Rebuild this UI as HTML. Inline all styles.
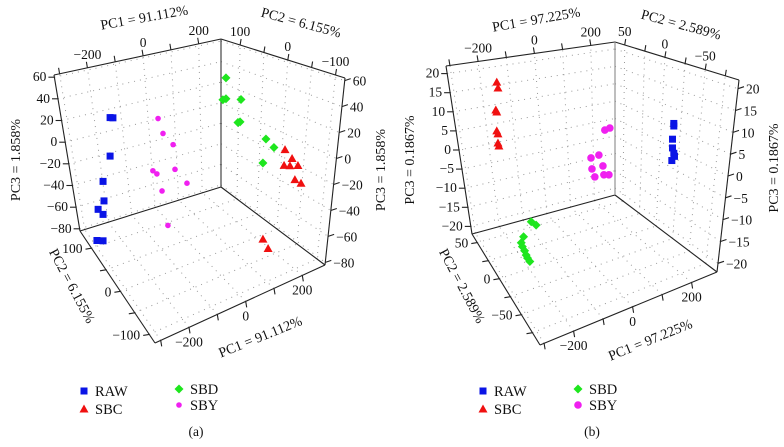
<!DOCTYPE html>
<html><head><meta charset="utf-8"><style>
html,body{margin:0;padding:0;background:#fff;}
svg{display:block;}
svg text{font-family:"Liberation Serif","DejaVu Serif",serif;}
</style></head><body>
<svg id="chart" width="784" height="447" viewBox="0 0 784 447" xmlns="http://www.w3.org/2000/svg" font-family="Liberation Serif, serif"></svg>
<script>
// ---------- Panel (a) data ----------
const A_RAW_PC1 = [-260,-248,-260,-290,-286,-311,-290,-316,-290];
const A_RAW_PC2 = [100,100,100,100,100,100,100,100,100];
const A_RAW_PC3 = [28,27,-7,-28,-46,-52,-58,-80,-82];
const A_SBC_PC1 = [212,242,208,233,267,254,280,118,140];
const A_SBC_PC2 = [-60,-60,-60,-60,-60,-60,-60,-60,-60];
const A_SBC_PC3 = [11,1,-3,-5,-7,-19,-24,-64,-74];
const A_SBD_PC1 = [199,186,199,263,250,259,233,267,220];
const A_SBD_PC2 = [80,80,80,80,80,80,0,0,0];
const A_SBD_PC3 = [39,20,20,15,-5,-5,3,-7,-18];
const A_SBY_PC1 = [-124,-103,-60,-146,-129,-52,-1,-107,-82];
const A_SBY_PC2 = [60,60,60,60,60,60,60,60,60];
const A_SBY_PC3 = [29,14,1,-17,-21,-22,-38,-38,-71];
// ---------- Panel (b) data ----------
const B_RAW_PC1 = [266,266,266,266,266,266,266];
const B_RAW_PC2 = [-34,-34,-32,-32,-34,-35,-31];
const B_RAW_PC3 = [11.2,10.5,6.6,4.2,3,2.3,0.6];
const B_SBC_PC1 = [-224,-219,-228,-224,-224,-219,-219,-215];
const B_SBC_PC2 = [57,57,57,57,57,57,57,57];
const B_SBC_PC3 = [18.8,17.1,11.2,10.6,5.4,4.5,2,1.1];
const B_SBD_PC1 = [-96,-95,-181,-213,-225,-235,-248,-256,-263];
const B_SBD_PC2 = [51,44,32,24,18,11,4,-1,-7];
const B_SBD_PC3 = [-21,-21,-21,-21,-21,-21,-21,-21,-21];
const B_SBY_PC1 = [160,181,102,135,106,152,118,156,177];
const B_SBY_PC2 = [32,32,32,32,32,32,32,32,32];
const B_SBY_PC3 = [2.2,2.4,-4.4,-4.2,-7.5,-7.5,-9.9,-10,-10.4];
// ---------- axis tick values ----------
const A_PC1_TICKS = [-300,-200,-100,0,100,200];
const A_PC1_LABELS = [-200,0,200];
const A_PC2_TICKS = [-100,-50,0,50,100];
const A_PC2_LABELS = [-100,0,100];
const A_PC3_TICKS = [-80,-60,-40,-20,0,20,40,60];
const B_PC1_TICKS = [-300,-200,-100,0,100,200];
const B_PC1_LABELS = [-200,0,200];
const B_PC2_TICKS = [-75,-50,-25,0,25,50];
const B_PC2_LABELS = [-50,0,50];
const B_PC3_TICKS = [-20,-15,-10,-5,0,5,10,15,20];

const NS = "http://www.w3.org/2000/svg";
const svg = document.getElementById('chart');
function mk(tag, attrs, parent){ const e=document.createElementNS(NS,tag); for(const k in attrs) e.setAttribute(k,attrs[k]); (parent||svg).appendChild(e); return e; }
const FONT = '"Liberation Serif", serif';

function panel(cfg){
  const g = mk('g',{});
  
  
  const r1=cfg.r1, r2=cfg.r2, r3=cfg.r3;
  const U=p=>(p-r1[0])/(r1[1]-r1[0]);
  const V=p=>(p-r2[0])/(r2[1]-r2[0]);
  const W=p=>(p-r3[0])/(r3[1]-r3[0]);
  function bil(c00,c10,c01,c11,u,v){
    return [c00[0]*(1-u)*(1-v)+c10[0]*u*(1-v)+c01[0]*(1-u)*v+c11[0]*u*v,
            c00[1]*(1-u)*(1-v)+c10[1]*u*(1-v)+c01[1]*(1-u)*v+c11[1]*u*v];
  }
  function F(u,v,w){
    const f=bil(cfg.Fb,cfg.Rb,cfg.Lb,cfg.Bb,u,v), t=bil(cfg.Ft,cfg.Rt,cfg.Lt,cfg.Bt,u,v);
    return [f[0]+(t[0]-f[0])*w, f[1]+(t[1]-f[1])*w];
  }
  const e1=[(cfg.Bb[0]-cfg.Lb[0])/(r1[1]-r1[0]),(cfg.Bb[1]-cfg.Lb[1])/(r1[1]-r1[0])];
  const e2=[(cfg.Bb[0]-cfg.Rb[0])/(r2[1]-r2[0]),(cfg.Bb[1]-cfg.Rb[1])/(r2[1]-r2[0])];
  function P(a,b,c){
    const d1=a-r1[1], d2=b-r2[1], d3=c-r3[0];
    return [cfg.Bb[0]+d1*e1[0]+d2*e2[0], cfg.Bb[1]+d1*e1[1]+d2*e2[1]-d3*cfg.k];
  }
  const grid = mk('g',{stroke:'#9a9a9a','stroke-width':1,'stroke-dasharray':'1 5',fill:'none'},g);
  
  
  function seg(p,q,par,attrs){ return mk('line',Object.assign({x1:p[0].toFixed(1),y1:p[1].toFixed(1),x2:q[0].toFixed(1),y2:q[1].toFixed(1)},attrs||{}),par); }
  cfg.t1.forEach(t=>{ const u=U(t); seg(F(u,1,0),F(u,1,1),grid); seg(F(u,0,0),F(u,1,0),grid); });
  cfg.t3.forEach(t=>{ const w=W(t); seg(F(0,1,w),F(1,1,w),grid); seg(F(1,1,w),F(1,0,w),grid); });
  cfg.t2.forEach(t=>{ const v=V(t); seg(F(1,v,0),F(1,v,1),grid); seg(F(0,v,0),F(1,v,0),grid); });
  const fr = mk('g',{stroke:'#222','stroke-width':1.1,fill:'none'},g);
  
  
  [[cfg.Lt,cfg.Bt],[cfg.Bt,cfg.Rt],[cfg.Lt,cfg.Lb],[cfg.Lb,cfg.Bb],[cfg.Bb,cfg.Rb],[cfg.Rb,cfg.Rt],[cfg.Lb,cfg.Fb],[cfg.Fb,cfg.Rb]].forEach(s=>seg(s[0],s[1],fr));
  seg(cfg.Bb,cfg.Bt,fr,{stroke:cfg.backCol});
  const tk = mk('g',{stroke:'#222','stroke-width':1.1},g);
  const lb = mk('g',{'font-size':13.5,fill:'#111','font-family':FONT},g);
  
  
  function tick(p,dx,dy,label,anchor,ox,oy){
    seg(p,[p[0]+dx,p[1]+dy],tk);
    if(label!==null){ const t=mk('text',{x:(p[0]+ox).toFixed(1),y:(p[1]+oy).toFixed(1),'text-anchor':anchor,'font-family':FONT},lb); t.textContent=String(label).replace('-','\u2212'); }
  }
  cfg.t3.forEach(t=>{ const w=W(t); tick(F(0,1,w),-6,0,t,'end',-8,4); tick(F(1,0,w),6,-2,t,'start',8,5); });
  cfg.t1.forEach(t=>{ const u=U(t); const L=cfg.l1.includes(t);
    tick(F(u,1,1),-1,-6,L?t:null,'middle',0,-9); tick(F(u,0,0),1,6,L?t:null,'middle',0,19); });
  cfg.t2.forEach(t=>{ const v=V(t); const L=cfg.l2.includes(t);
    tick(F(1,v,1),1,-6,L?t:null,'middle',0,-9); tick(F(0,v,0),-6,1,L?t:null,'end',-9,5); });
  cfg.titles.forEach(ti=>{
    const t=mk('text',{x:ti[1],y:ti[2],'font-size':14,'text-anchor':'middle',fill:'#111','font-family':FONT,transform:`rotate(${ti[3]} ${ti[1]} ${ti[2]})`},g);
    t.textContent=ti[0];
    
    
  });
  cfg.series.forEach(s=>{
    const sg=mk('g',{fill:s.col},g);
    
    
    for(let i=0;i<s.a.length;i++){
      const p=P(s.a[i],s.b[i],s.c[i]);
      const m=marker(s.shape,p[0],p[1],sg);
      
      
    }
  });
  const lg=mk('g',{'font-size':14.5,fill:'#111','font-family':FONT},g);
  
  
  cfg.legend.forEach(it=>{
    const e=mk('g',{fill:it[4]},lg);
    
    
    marker(it[3],it[1],it[2],e);
    const t=mk('text',{x:it[1]+11,y:it[2]+5,fill:'#111','font-family':FONT},lg); t.textContent=it[0];
  });
  const cap=mk('text',{x:cfg.cap[1],y:cfg.cap[2],'font-size':13.5,'text-anchor':'middle',fill:'#111','font-family':FONT},g);
  cap.textContent=cfg.cap[0];
  
  
}
function marker(shape,x,y,par){
  if(shape==='sq') return mk('rect',{x:x-3.5,y:y-3.5,width:7,height:7},par);
  if(shape==='tri') return mk('polygon',{points:`${x},${y-4.5} ${x+4.5},${y+3.5} ${x-4.5},${y+3.5}`},par);
  if(shape==='dia') return mk('polygon',{points:`${x},${y-4.5} ${x+4.5},${y} ${x},${y+4.5} ${x-4.5},${y}`},par);
  if(shape==='star') return mk('circle',{cx:x,cy:y,r:2.8},par);
  return mk('circle',{cx:x,cy:y,r:3.8},par);
}
const BLUE='#0a14e6', RED='#f01010', GREEN='#1ee61e', MAG='#f020f0';
panel({name:'panel-a',r1:[-320,280],r2:[-120,140],r3:[-82,62],k:1.1,backCol:'#333',
  Lb:[80,231],Bb:[221,187],Rb:[325,265],Fb:[155,343],Lt:[54,75],Bt:[221,39],Rt:[345,78],Ft:[178,114],
  t1:A_PC1_TICKS,l1:A_PC1_LABELS,t2:A_PC2_TICKS,l2:A_PC2_LABELS,t3:A_PC3_TICKS,
  titles:[['PC1 = 91.112%',145,22,-10],['PC2 = 6.155%',300,27,15],['PC3 = 1.858%',20,160,-90],['PC3 = 1.858%',385,170,-90],['PC2 = 6.155%',68,288,62],['PC1 = 91.112%',262,341,-22]],
  series:[{id:'raw',a:A_RAW_PC1,b:A_RAW_PC2,c:A_RAW_PC3,col:BLUE,shape:'sq'},
          {id:'sbc',a:A_SBC_PC1,b:A_SBC_PC2,c:A_SBC_PC3,col:RED,shape:'tri'},
          {id:'sbd',a:A_SBD_PC1,b:A_SBD_PC2,c:A_SBD_PC3,col:GREEN,shape:'dia'},
          {id:'sby',a:A_SBY_PC1,b:A_SBY_PC2,c:A_SBY_PC3,col:MAG,shape:'star'}],
  legend:[['RAW',84,391,'sq',BLUE],['SBC',84,409,'tri',RED],['SBD',179,389,'dia',GREEN],['SBY',179,405,'star',MAG]],
  cap:['(a)',196,436]});
panel({name:'panel-b',r1:[-314,286],r2:[-92,62],r3:[-22,22],k:3.64,backCol:'#888',
  Lb:[472,234],Bb:[615,195],Rb:[717,272],Fb:[540,345],Lt:[446,66],Bt:[615,42],Rt:[739,80],Ft:[570,104],
  t1:B_PC1_TICKS,l1:B_PC1_LABELS,t2:B_PC2_TICKS,l2:B_PC2_LABELS,t3:B_PC3_TICKS,
  titles:[['PC1 = 97.225%',537,24,-10],['PC2 = 2.589%',680,29,15],['PC3 = 0.1867%',414,160,-90],['PC3 = 0.1867%',778,168,-90],['PC2 = 2.589%',458,288,62],['PC1 = 97.225%',652,344,-22]],
  series:[{id:'raw',a:B_RAW_PC1,b:B_RAW_PC2,c:B_RAW_PC3,col:BLUE,shape:'sq'},
          {id:'sbc',a:B_SBC_PC1,b:B_SBC_PC2,c:B_SBC_PC3,col:RED,shape:'tri'},
          {id:'sbd',a:B_SBD_PC1,b:B_SBD_PC2,c:B_SBD_PC3,col:GREEN,shape:'dia'},
          {id:'sby',a:B_SBY_PC1,b:B_SBY_PC2,c:B_SBY_PC3,col:MAG,shape:'circ'}],
  legend:[['RAW',483,391,'sq',BLUE],['SBC',483,409,'tri',RED],['SBD',578,389,'dia',GREEN],['SBY',578,405,'circ',MAG]],
  cap:['(b)',592,436]});
</script>
</body></html>
